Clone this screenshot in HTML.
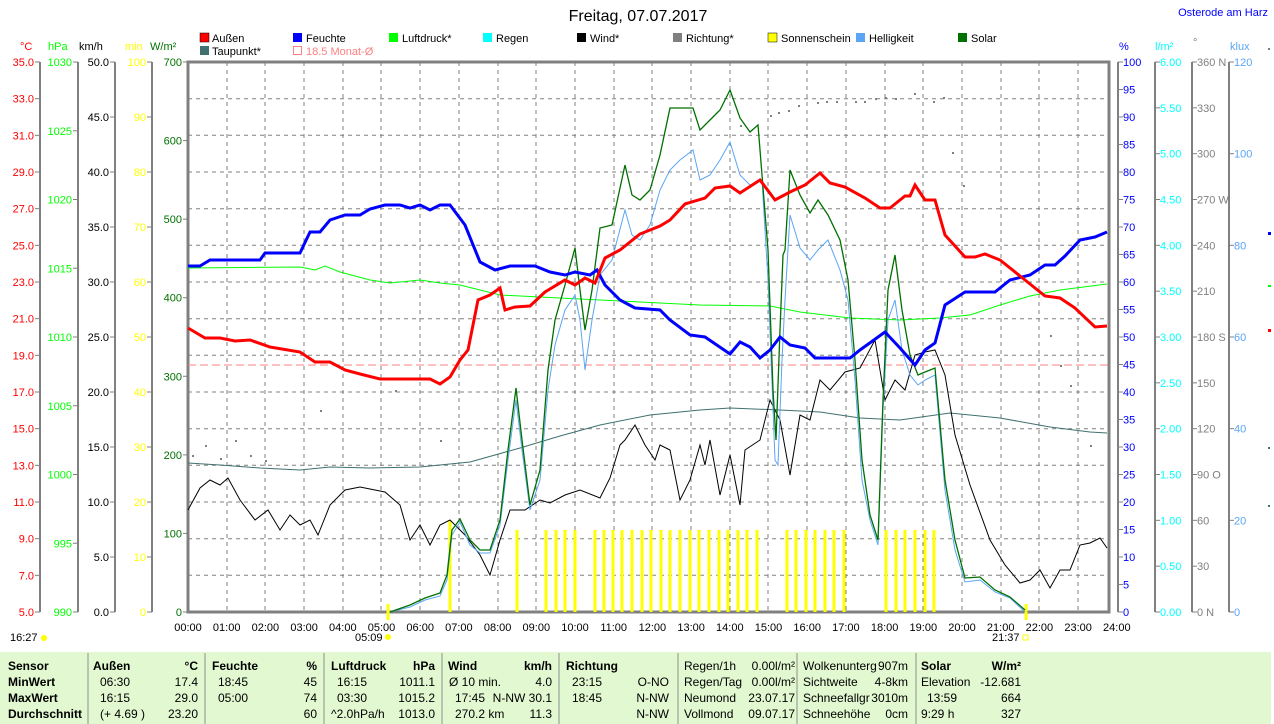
<!DOCTYPE html>
<html><head><meta charset="utf-8"><style>
body{margin:0;width:1274px;height:724px;overflow:hidden;background:#fff;font-family:"Liberation Sans",sans-serif}
svg{position:absolute;left:0;top:0}
</style></head><body>
<svg width="1274" height="724" viewBox="0 0 1274 724" font-family="Liberation Sans, sans-serif" font-size="11">
<text x="638" y="21" font-size="16" text-anchor="middle" fill="#000">Freitag, 07.07.2017</text>
<text x="1268" y="16" font-size="11" text-anchor="end" fill="#0000ff">Osterode am Harz</text>
<g font-size="11">
<rect x="200" y="33" width="9" height="9" fill="#f00" stroke="#000" stroke-width="0.5"/><text x="212" y="42">Außen</text>
<rect x="293" y="33" width="9" height="9" fill="#00f"/><text x="306" y="42">Feuchte</text>
<rect x="389" y="33" width="9" height="9" fill="#0f0"/><text x="402" y="42">Luftdruck*</text>
<rect x="483" y="33" width="9" height="9" fill="#0ff"/><text x="496" y="42">Regen</text>
<rect x="577" y="33" width="9" height="9" fill="#000"/><text x="590" y="42">Wind*</text>
<rect x="673" y="33" width="9" height="9" fill="#808080"/><text x="686" y="42">Richtung*</text>
<rect x="768" y="33" width="9" height="9" fill="#ff0" stroke="#000" stroke-width="0.5"/><text x="781" y="42">Sonnenschein</text>
<rect x="856" y="33" width="9" height="9" fill="#5aa5f5"/><text x="869" y="42">Helligkeit</text>
<rect x="958" y="33" width="9" height="9" fill="#007000"/><text x="971" y="42">Solar</text>
<rect x="200" y="46" width="9" height="9" fill="#407070"/><text x="212" y="55">Taupunkt*</text>
<rect x="293.5" y="46.5" width="8" height="8" fill="none" stroke="#ff8080"/><text x="306" y="55" fill="#ff8080">18.5 Monat-Ø</text>
</g>
<g font-size="11">
<text x="20" y="50" fill="#f00">°C</text><text x="48" y="50" fill="#0f0">hPa</text><text x="79" y="50">km/h</text>
<text x="125" y="50" fill="#ff0">min</text><text x="150" y="50" fill="#007000">W/m²</text>
<text x="1119" y="50" fill="#00f">%</text><text x="1155" y="50" fill="#0ff">l/m²</text><text x="1193" y="46" fill="#808080">°</text><text x="1230" y="50" fill="#5aa5f5">klux</text>
</g>
<g id="grid" stroke="#808080" stroke-dasharray="4,4" stroke-width="1">
<path d="M227 62V612M265 62V612M304 62V612M343 62V612M381 62V612M420 62V612M459 62V612M498 62V612M536 62V612M575 62V612M614 62V612M652 62V612M691 62V612M730 62V612M768 62V612M807 62V612M846 62V612M885 62V612M923 62V612M962 62V612M1001 62V612M1039 62V612M1078 62V612"/>
<path d="M188 98.7H1109M188 135.3H1109M188 172H1109M188 208.7H1109M188 245.3H1109M188 282H1109M188 318.7H1109M188 355.3H1109M188 392H1109M188 428.7H1109M188 465.3H1109M188 502H1109M188 538.7H1109M188 575.3H1109"/>
</g>
<g stroke="#808080" stroke-width="2" fill="none">
<path d="M40 62V612M78 62V612M115 62V612M152 62V612M1155 62V612M1192 62V612M1229 62V612"/>
<path d="M1118 62V612"/>
<rect x="188" y="62" width="921" height="550" stroke-width="3"/>
</g>
<g id="ticks" stroke="#808080" stroke-width="1"></g>
<g id="labels"></g>
<path d="M188 365H1109" stroke="#ff8080" stroke-dasharray="8,4" stroke-width="1"/>
<g stroke="#ffff00" stroke-width="3">
<path d="M450 612V520M517 612V530M546 612V530M556 612V530M565 612V530M575 612V530M595 612V530M604 612V530M613 612V530M622 612V530M632 612V530M642 612V530M651 612V530M661 612V530M670 612V530M680 612V530M690 612V530M699 612V530M709 612V530M719 612V530M728 612V530M738 612V530M747 612V530M757 612V530M787 612V530M796 612V530M806 612V530M815 612V530M825 612V530M834 612V530M844 612V530M886 612V530M896 612V530M905 612V530M915 612V530M925 612V530M934 612V530M388 620V604M1026 620V604"/>
</g>
<g fill="#808080">
<rect x="192" y="455" width="2" height="2"/><rect x="205" y="445" width="2" height="2"/><rect x="220" y="458" width="2" height="2"/><rect x="235" y="440" width="2" height="2"/><rect x="250" y="455" width="2" height="2"/><rect x="265" y="460" width="2" height="2"/>
<rect x="320" y="410" width="2" height="2"/><rect x="395" y="390" width="2" height="2"/><rect x="440" y="440" width="2" height="2"/>
<rect x="740" y="125" width="2" height="2"/><rect x="770" y="115" width="2" height="2"/><rect x="778" y="112" width="2" height="2"/><rect x="788" y="110" width="2" height="2"/><rect x="798" y="105" width="2" height="2"/><rect x="817" y="102" width="2" height="2"/><rect x="826" y="101" width="2" height="2"/><rect x="836" y="101" width="2" height="2"/><rect x="855" y="101" width="2" height="2"/><rect x="864" y="101" width="2" height="2"/><rect x="875" y="98" width="2" height="2"/><rect x="885" y="97" width="2" height="2"/><rect x="895" y="98" width="2" height="2"/><rect x="914" y="93" width="2" height="2"/><rect x="933" y="101" width="2" height="2"/><rect x="943" y="97" width="2" height="2"/><rect x="952" y="152" width="2" height="2"/><rect x="963" y="185" width="2" height="2"/><rect x="1050" y="335" width="2" height="2"/><rect x="1060" y="365" width="2" height="2"/><rect x="1070" y="385" width="2" height="2"/><rect x="1090" y="445" width="2" height="2"/>
</g>
<polyline fill="none" stroke="#407070" stroke-width="1" points="188,463 220,465 260,468 300,470 330,467 370,468 420,467 470,462 520,448 560,436 600,425 650,415 700,410 730,408 780,410 820,412 860,418 900,420 950,413 1000,418 1050,427 1090,432 1107,433"/>
<polyline fill="none" stroke="#00ff00" stroke-width="1" points="188,268 300,267 315,270 325,266 340,272 370,280 390,283 420,280 440,283 460,285 500,295 560,298 600,300 700,305 770,306 800,312 850,318 900,320 940,318 970,315 1000,305 1030,296 1060,290 1107,284"/>
<polyline fill="none" stroke="#000" stroke-width="1" points="188,510 200,488 210,480 220,485 228,478 240,500 255,520 268,510 280,530 290,515 300,525 310,520 318,535 330,505 345,490 360,487 375,490 385,492 400,505 410,540 420,525 430,545 440,525 450,520 465,535 480,555 490,575 500,540 510,510 525,510 540,500 550,503 565,495 580,490 600,498 610,478 620,445 625,440 635,425 645,445 655,460 660,445 670,450 680,500 690,480 700,445 705,465 710,440 720,495 730,455 740,505 745,450 760,440 770,400 780,420 790,475 800,415 810,420 820,380 830,390 845,372 860,368 875,340 885,400 895,380 905,390 915,355 925,352 935,350 945,375 955,435 970,485 990,540 1005,565 1020,583 1030,580 1040,570 1050,588 1060,570 1070,570 1080,545 1090,543 1100,538 1107,548"/>
<polyline fill="none" stroke="#5aa5f5" stroke-width="1" points="390,612 410,607 425,600 440,596 447,580 452,535 460,522 470,545 480,553 490,553 500,525 508,460 516,400 522,450 530,510 540,480 548,390 555,345 565,310 575,295 580,320 585,370 592,320 600,275 612,260 625,210 632,235 640,240 650,225 660,190 670,170 680,160 693,150 700,180 710,175 720,160 730,142 740,175 750,185 762,180 768,280 775,460 778,465 782,360 785,300 790,215 800,248 810,260 818,250 828,240 840,270 848,300 855,380 862,480 870,520 878,545 883,410 888,320 895,300 902,350 910,375 918,385 925,380 935,375 945,490 955,550 965,582 980,580 995,592 1010,598 1025,612"/>
<polyline fill="none" stroke="#007000" stroke-width="1.3" points="390,612 410,605 425,598 440,593 447,575 452,530 460,519 470,540 480,550 490,550 500,520 508,450 516,388 522,440 530,505 540,470 548,370 555,320 565,285 575,248 580,290 585,330 592,290 600,228 612,225 625,165 632,195 640,200 650,190 660,155 670,108 680,108 693,108 700,130 710,120 720,110 730,90 740,118 750,132 758,125 768,250 773,390 776,440 780,330 783,255 785,250 790,170 800,195 810,213 818,200 828,215 840,240 848,280 855,360 862,460 870,515 878,540 883,400 888,290 895,255 902,310 910,355 918,375 925,372 935,368 945,480 955,540 965,578 980,577 995,590 1010,597 1025,610"/>
<polyline fill="none" stroke="#0000ff" stroke-width="3" points="188,266 200,266 210,260 260,260 265,253 300,253 310,232 320,232 330,220 345,215 360,215 370,209 385,205 400,205 410,208 420,205 430,210 440,205 450,205 465,225 480,262 495,270 510,266 535,266 550,272 565,275 575,272 590,275 597,270 605,285 620,300 635,308 660,310 670,320 690,335 705,337 730,354 740,342 750,347 760,358 770,350 780,337 790,345 805,348 815,358 850,358 860,350 885,332 900,348 915,365 925,350 935,343 945,305 965,292 995,292 1010,280 1030,275 1045,265 1055,265 1065,256 1080,240 1095,237 1107,232"/>
<polyline fill="none" stroke="#ff0000" stroke-width="3" points="188,328 205,338 220,338 235,341 250,340 270,347 300,352 315,362 330,362 345,370 360,374 380,379 430,379 440,384 450,377 460,360 468,350 478,300 490,295 500,288 505,310 515,307 530,306 545,292 565,280 575,285 585,278 595,283 605,258 620,250 640,234 660,226 670,220 685,204 705,198 715,188 730,186 740,193 760,180 775,200 790,192 805,185 820,173 830,183 845,187 865,198 880,208 890,208 905,196 910,196 915,185 925,200 935,200 945,235 965,257 975,257 985,254 1000,260 1025,280 1045,296 1060,298 1075,308 1095,327 1107,326"/>
<rect x="1268" y="232" width="3" height="3" fill="#00f"/><rect x="1268" y="285" width="3" height="2" fill="#0f0"/><rect x="1268" y="329" width="3" height="3" fill="#f00"/><rect x="1268" y="48" width="2" height="2" fill="#808080"/><rect x="1268" y="447" width="2" height="2" fill="#407070"/><rect x="1268" y="505" width="2" height="2" fill="#407070"/>
<g id="hours" font-size="11" text-anchor="middle"></g>
<text x="10" y="641" font-size="11">16:27</text><circle cx="44" cy="638" r="3" fill="#ff0"/>
<text x="355" y="641" font-size="11">05:09</text><circle cx="388" cy="637" r="3" fill="#ff0"/>
<text x="992" y="641" font-size="11">21:37</text><rect x="1023" y="635" width="5" height="5" fill="none" stroke="#ff0"/>
<rect x="0" y="652" width="1271" height="72" fill="#e2f8d0"/>
<g stroke="#909090" stroke-width="1"><path d="M88 653V724M205 653V724M324 653V724M442 653V724M559 653V724M678 653V724M797 653V724M916 653V724"/></g>
<g font-size="12">
<g font-weight="bold"><text x="8" y="670">Sensor</text><text x="8" y="686">MinWert</text><text x="8" y="702">MaxWert</text><text x="8" y="718">Durchschnitt</text>
<text x="93" y="670">Außen</text><text x="198" y="670" text-anchor="end">°C</text>
<text x="212" y="670">Feuchte</text><text x="317" y="670" text-anchor="end">%</text>
<text x="331" y="670">Luftdruck</text><text x="435" y="670" text-anchor="end">hPa</text>
<text x="448" y="670">Wind</text><text x="552" y="670" text-anchor="end">km/h</text>
<text x="566" y="670">Richtung</text>
<text x="921" y="670">Solar</text><text x="1021" y="670" text-anchor="end">W/m²</text></g>
<text x="100" y="686">06:30</text><text x="198" y="686" text-anchor="end">17.4</text>
<text x="100" y="702">16:15</text><text x="198" y="702" text-anchor="end">29.0</text>
<text x="100" y="718">(+ 4.69 )</text><text x="198" y="718" text-anchor="end">23.20</text>
<text x="218" y="686">18:45</text><text x="317" y="686" text-anchor="end">45</text>
<text x="218" y="702">05:00</text><text x="317" y="702" text-anchor="end">74</text>
<text x="317" y="718" text-anchor="end">60</text>
<text x="337" y="686">16:15</text><text x="435" y="686" text-anchor="end">1011.1</text>
<text x="337" y="702">03:30</text><text x="435" y="702" text-anchor="end">1015.2</text>
<text x="331" y="718">^2.0hPa/h</text><text x="435" y="718" text-anchor="end">1013.0</text>
<text x="449" y="686">Ø 10 min.</text><text x="552" y="686" text-anchor="end">4.0</text>
<text x="455" y="702">17:45</text><text x="552" y="702" text-anchor="end">N-NW 30.1</text>
<text x="455" y="718">270.2 km</text><text x="552" y="718" text-anchor="end">11.3</text>
<text x="572" y="686">23:15</text><text x="669" y="686" text-anchor="end">O-NO</text>
<text x="572" y="702">18:45</text><text x="669" y="702" text-anchor="end">N-NW</text>
<text x="669" y="718" text-anchor="end">N-NW</text>
<text x="684" y="670">Regen/1h</text><text x="795" y="670" text-anchor="end">0.00l/m²</text>
<text x="684" y="686">Regen/Tag</text><text x="795" y="686" text-anchor="end">0.00l/m²</text>
<text x="684" y="702">Neumond</text><text x="795" y="702" text-anchor="end">23.07.17</text>
<text x="684" y="718">Vollmond</text><text x="795" y="718" text-anchor="end">09.07.17</text>
<text x="803" y="670">Wolkenunterg</text><text x="908" y="670" text-anchor="end">907m</text>
<text x="803" y="686">Sichtweite</text><text x="908" y="686" text-anchor="end">4-8km</text>
<text x="803" y="702">Schneefallgr</text><text x="908" y="702" text-anchor="end">3010m</text>
<text x="803" y="718">Schneehöhe</text><text x="908" y="718" text-anchor="end">0cm</text>
<text x="921" y="686">Elevation</text><text x="1021" y="686" text-anchor="end">-12.681</text>
<text x="927" y="702">13:59</text><text x="1021" y="702" text-anchor="end">664</text>
<text x="921" y="718">9:29 h</text><text x="1021" y="718" text-anchor="end">327</text>
</g>
</svg>
<script>
(function(){
var NS="http://www.w3.org/2000/svg",L=document.getElementById("labels"),T=document.getElementById("ticks"),H=document.getElementById("hours");
function t(x,y,s,c,a){var e=document.createElementNS(NS,"text");e.setAttribute("x",x);e.setAttribute("y",y);e.setAttribute("fill",c);e.setAttribute("font-size","11");if(a)e.setAttribute("text-anchor",a);e.textContent=s;L.appendChild(e);}
function tk(x1,x2,y){var e=document.createElementNS(NS,"line");e.setAttribute("x1",x1);e.setAttribute("x2",x2);e.setAttribute("y1",y);e.setAttribute("y2",y);T.appendChild(e);}
function axis(n,ax,side,color,fmt){for(var i=0;i<=n;i++){var y=62+550*i/n;if(side<0){tk(ax-5,ax,y);t(ax-6,y+4,fmt(i),color,"end");}else{tk(ax,ax+5,y);t(ax+5,y+4,fmt(i),color);}}}
axis(15,40,-1,"#ff0000",function(i){return (35-2*i).toFixed(1)});
axis(8,78,-1,"#00ff00",function(i){return 1030-5*i});
axis(10,115,-1,"#000",function(i){return (50-5*i).toFixed(1)});
axis(10,152,-1,"#ffff00",function(i){return 100-10*i});
axis(7,188,-1,"#007000",function(i){return 700-100*i});
axis(20,1118,1,"#0000ff",function(i){return 100-5*i});
axis(12,1155,1,"#00ffff",function(i){return (6-0.5*i).toFixed(2)});
var dn={0:" N",3:" W",6:" S",9:" O",12:" N"};
axis(12,1192,1,"#808080",function(i){return (360-30*i)+(dn[i]||"")});
axis(6,1229,1,"#5aa5f5",function(i){return 120-20*i});
for(var h=0;h<=24;h++){var e=document.createElementNS(NS,"text");e.setAttribute("x",188+38.7*h);e.setAttribute("y",631);e.textContent=(h<10?"0":"")+h+":00";H.appendChild(e);}
})();
</script>
</body></html>
